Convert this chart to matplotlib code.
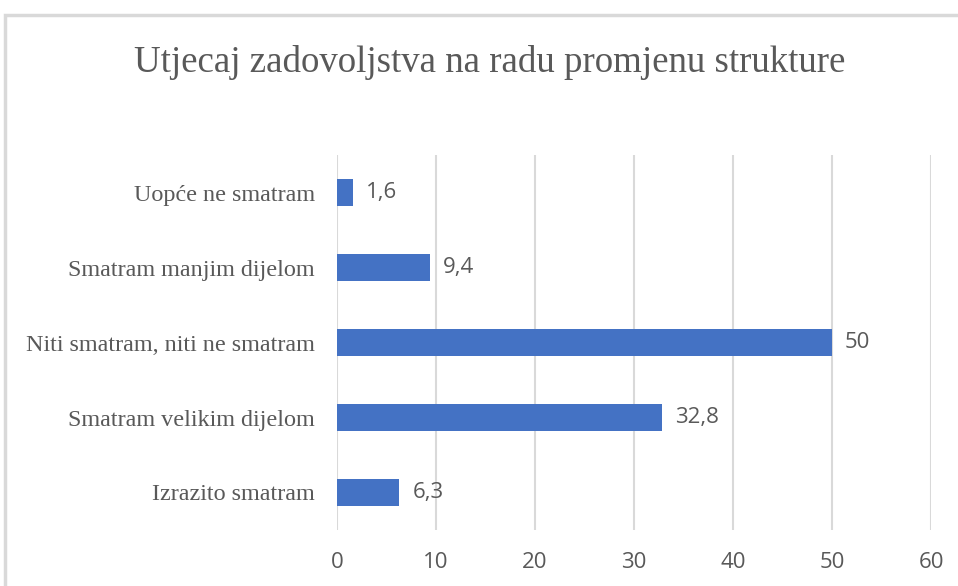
import matplotlib
matplotlib.use("Agg")
import matplotlib.pyplot as plt
from matplotlib.patches import Rectangle

categories = ["Izrazito smatram", "Smatram velikim dijelom", "Niti smatram, niti ne smatram",
              "Smatram manjim dijelom", "Uopće ne smatram"]
values = [6.3, 32.8, 50, 9.4, 1.6]
value_labels = ["6,3", "32,8", "50", "9,4", "1,6"]
xticks = [0, 10, 20, 30, 40, 50, 60]

W, H = 958, 586
fig = plt.figure(figsize=(W / 100, H / 100), dpi=100)
fig.patch.set_facecolor("white")

# outer frame
fig.patches.append(Rectangle((5 / W, -0.1), 1.2, 1 - 15 / H + 0.1, transform=fig.transFigure,
                             fill=False, edgecolor="#D9D9D9", linewidth=2.5))

ax = fig.add_axes([337 / W, 1 - 530 / H, (931 - 337) / W, (530 - 155) / H])
ypos = list(range(len(categories)))
ax.barh(ypos, values, height=0.35, color="#4472C4", zorder=3)
ax.set_xlim(0, 60)
ax.set_ylim(-0.5, len(categories) - 0.5)
ax.set_xticks(xticks)
ax.set_xticklabels([str(t) for t in xticks], fontsize=16, color="#595959", family="Open Sans")
ax.set_yticks(ypos)
ax.set_yticklabels(categories, fontsize=17.4, color="#595959", family="Liberation Serif")
ax.tick_params(axis="both", length=0)
ax.tick_params(axis="x", pad=15.5)
ax.tick_params(axis="y", pad=16)
ax.grid(axis="x", color="#D9D9D9", linewidth=1.5, zorder=0)
for s in ax.spines.values():
    s.set_visible(False)

for y, v, lab in zip(ypos, values, value_labels):
    ax.annotate(lab, (v, y), xytext=(13, 0), textcoords="offset pixels",
                va="center", ha="left", fontsize=16, color="#595959", family="Open Sans")

fig.text(490 / W, 1 - 62 / H, "Utjecaj zadovoljstva na radu promjenu strukture",
         ha="center", va="center", fontsize=26.6, color="#595959", family="Liberation Serif")

fig.savefig("out.png", dpi=100)
